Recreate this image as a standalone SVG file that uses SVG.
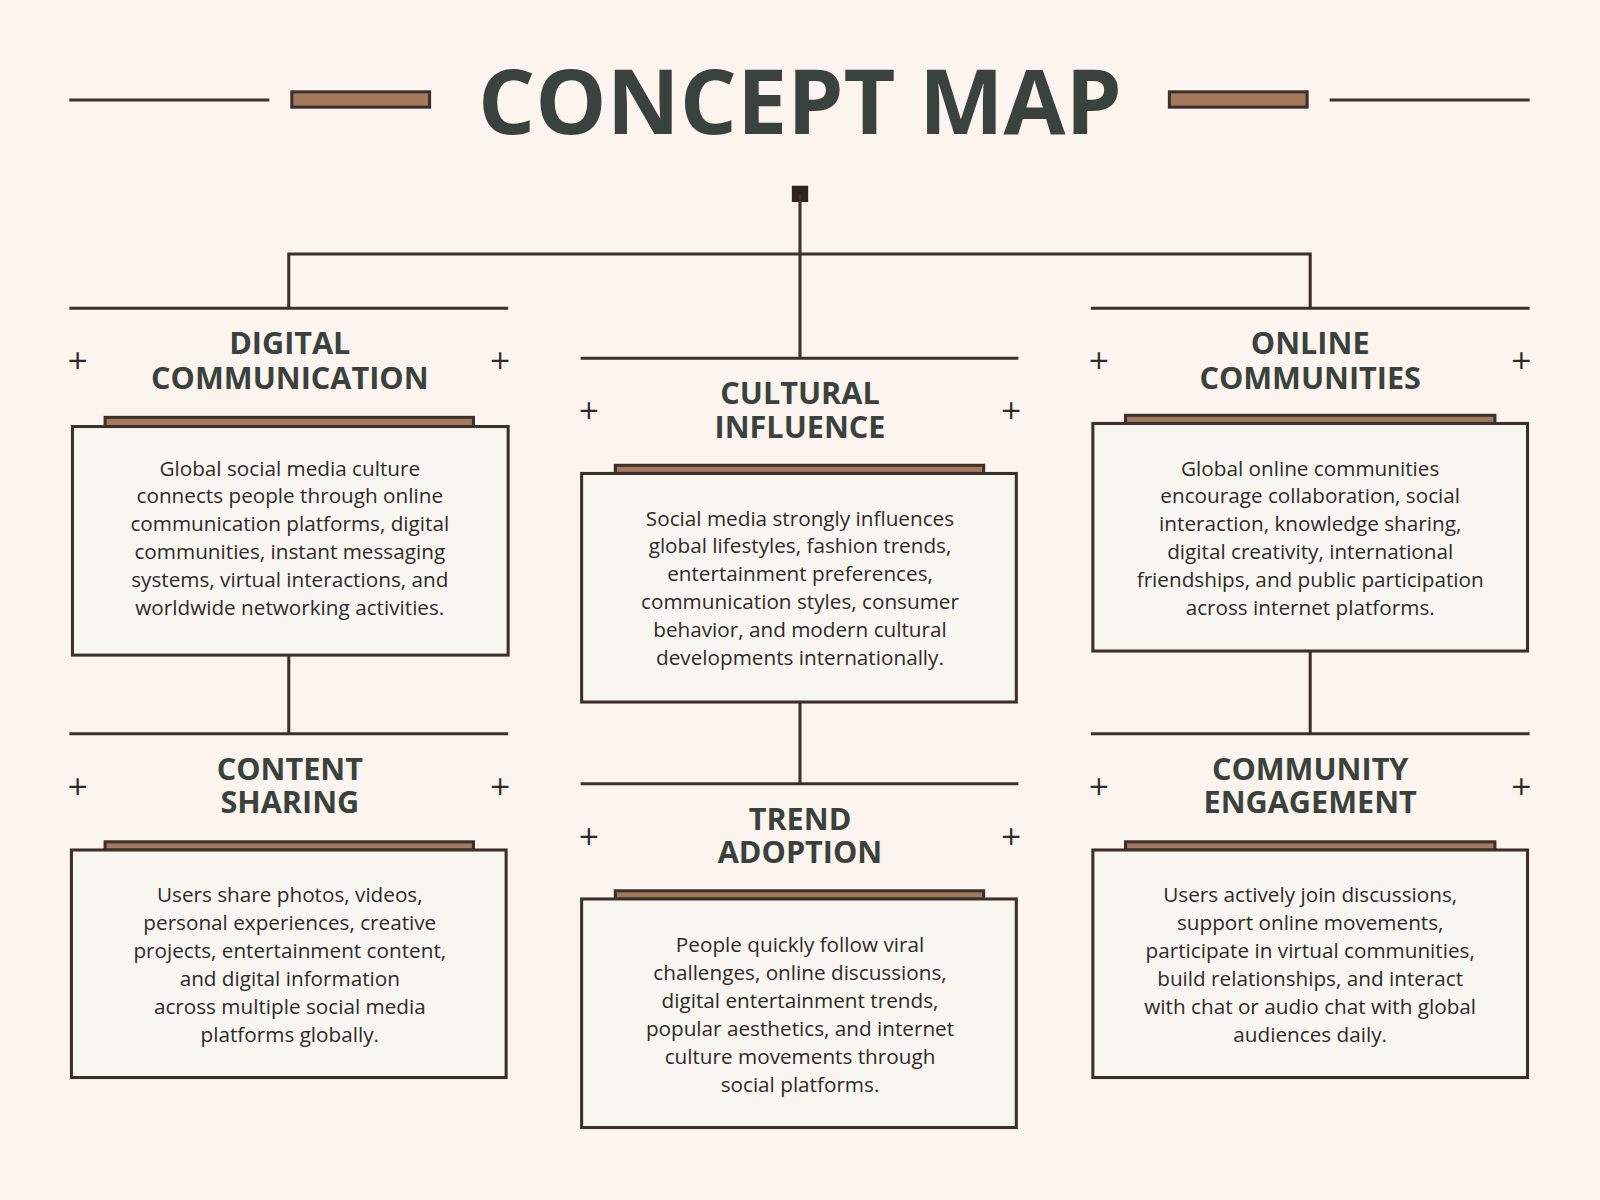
<svg xmlns="http://www.w3.org/2000/svg" width="1600" height="1200" viewBox="0 0 1600 1200">
<style>
.ln{stroke:#3b302b;stroke-width:3;fill:none}
.bar{fill:#a27a5b;stroke:#3b302b;stroke-width:3}
.box{fill:#f8f6f1;stroke:#3b302b;stroke-width:3}
.h{font-family:"Open Sans","Liberation Sans",sans-serif;font-weight:700;font-size:30px;fill:#3a423d;text-anchor:middle}
.p{font-family:"Open Sans","Liberation Sans",sans-serif;font-size:20.3px;fill:#2e2a27;text-anchor:middle}
.pl{font-family:"DejaVu Sans",sans-serif;font-weight:400;font-size:26px;fill:#2e2a27;text-anchor:middle}
</style>
<rect width="1600" height="1200" fill="#fcf5ef"/>
<g transform="scale(1.0204)">
<g id="title">
<line class="ln" x1="68" y1="98" x2="264" y2="98"/>
<rect class="bar" x="286" y="90" width="135" height="15"/>
<rect class="bar" x="1146" y="90" width="135" height="15"/>
<line class="ln" x1="1303" y1="98" x2="1499" y2="98"/>
<text x="784" y="131" font-family="Open Sans, Liberation Sans, sans-serif" font-weight="700" font-size="88" fill="#3a423d" text-anchor="middle">CONCEPT MAP</text>
<rect x="776" y="182" width="16" height="16" fill="#2e2522"/>
</g>
<g id="connectors">
<path class="ln" d="M784 190V351M283 302V249H1284V302M283 642V719M784 688V768M1284 638V719"/>
</g>
<g id="digital-communication">
<line class="ln" x1="68" y1="302" x2="498" y2="302"/>
<text class="pl" x="76" y="362">+</text><text class="pl" x="490" y="362">+</text>
<text class="h" x="284" y="347">DIGITAL</text><text class="h" x="284" y="381">COMMUNICATION</text>
<rect class="bar" x="103" y="409" width="361" height="9"/>
<rect class="box" x="71" y="418" width="427" height="224"/>
<text class="p" x="284" y="466"><tspan x="284">Global social media culture</tspan><tspan x="284" dy="27.4">connects people through online</tspan><tspan x="284" dy="27.4">communication platforms, digital</tspan><tspan x="284" dy="27.4">communities, instant messaging</tspan><tspan x="284" dy="27.4">systems, virtual interactions, and</tspan><tspan x="284" dy="27.4">worldwide networking activities.</tspan></text>
</g>
<g id="content-sharing">
<line class="ln" x1="68" y1="719" x2="498" y2="719"/>
<text class="pl" x="76" y="779">+</text><text class="pl" x="490" y="779">+</text>
<text class="h" x="284" y="764">CONTENT</text><text class="h" x="284" y="797">SHARING</text>
<rect class="bar" x="103" y="825" width="361" height="8"/>
<rect class="box" x="70" y="833" width="426" height="223"/>
<text class="p" x="284" y="884"><tspan x="284">Users share photos, videos,</tspan><tspan x="284" dy="27.4">personal experiences, creative</tspan><tspan x="284" dy="27.4">projects, entertainment content,</tspan><tspan x="284" dy="27.4">and digital information</tspan><tspan x="284" dy="27.4">across multiple social media</tspan><tspan x="284" dy="27.4">platforms globally.</tspan></text>
</g>
<g id="cultural-influence">
<line class="ln" x1="569" y1="351" x2="998" y2="351"/>
<text class="pl" x="577" y="411">+</text><text class="pl" x="991" y="411">+</text>
<text class="h" x="784" y="396">CULTURAL</text><text class="h" x="784" y="429">INFLUENCE</text>
<rect class="bar" x="603" y="456" width="361" height="8"/>
<rect class="box" x="570" y="464" width="426" height="224"/>
<text class="p" x="784" y="515"><tspan x="784">Social media strongly influences</tspan><tspan x="784" dy="27.4">global lifestyles, fashion trends,</tspan><tspan x="784" dy="27.4">entertainment preferences,</tspan><tspan x="784" dy="27.4">communication styles, consumer</tspan><tspan x="784" dy="27.4">behavior, and modern cultural</tspan><tspan x="784" dy="27.4">developments internationally.</tspan></text>
</g>
<g id="trend-adoption">
<line class="ln" x1="569" y1="768" x2="998" y2="768"/>
<text class="pl" x="577" y="828">+</text><text class="pl" x="991" y="828">+</text>
<text class="h" x="784" y="813">TREND</text><text class="h" x="784" y="846">ADOPTION</text>
<rect class="bar" x="603" y="873" width="361" height="8"/>
<rect class="box" x="570" y="881" width="426" height="224"/>
<text class="p" x="784" y="933"><tspan x="784">People quickly follow viral</tspan><tspan x="784" dy="27.4">challenges, online discussions,</tspan><tspan x="784" dy="27.4">digital entertainment trends,</tspan><tspan x="784" dy="27.4">popular aesthetics, and internet</tspan><tspan x="784" dy="27.4">culture movements through</tspan><tspan x="784" dy="27.4">social platforms.</tspan></text>
</g>
<g id="online-communities">
<line class="ln" x1="1069" y1="302" x2="1499" y2="302"/>
<text class="pl" x="1077" y="362">+</text><text class="pl" x="1491" y="362">+</text>
<text class="h" x="1284" y="347">ONLINE</text><text class="h" x="1284" y="381">COMMUNITIES</text>
<rect class="bar" x="1103" y="407" width="362" height="8"/>
<rect class="box" x="1071" y="415" width="426" height="223"/>
<text class="p" x="1284" y="466"><tspan x="1284">Global online communities</tspan><tspan x="1284" dy="27.4">encourage collaboration, social</tspan><tspan x="1284" dy="27.4">interaction, knowledge sharing,</tspan><tspan x="1284" dy="27.4">digital creativity, international</tspan><tspan x="1284" dy="27.4">friendships, and public participation</tspan><tspan x="1284" dy="27.4">across internet platforms.</tspan></text>
</g>
<g id="community-engagement">
<line class="ln" x1="1069" y1="719" x2="1499" y2="719"/>
<text class="pl" x="1077" y="779">+</text><text class="pl" x="1491" y="779">+</text>
<text class="h" x="1284" y="764">COMMUNITY</text><text class="h" x="1284" y="797">ENGAGEMENT</text>
<rect class="bar" x="1103" y="825" width="362" height="8"/>
<rect class="box" x="1071" y="833" width="426" height="223"/>
<text class="p" x="1284" y="884"><tspan x="1284">Users actively join discussions,</tspan><tspan x="1284" dy="27.4">support online movements,</tspan><tspan x="1284" dy="27.4">participate in virtual communities,</tspan><tspan x="1284" dy="27.4">build relationships, and interact</tspan><tspan x="1284" dy="27.4">with chat or audio chat with global</tspan><tspan x="1284" dy="27.4">audiences daily.</tspan></text>
</g>
</g>
</svg>
